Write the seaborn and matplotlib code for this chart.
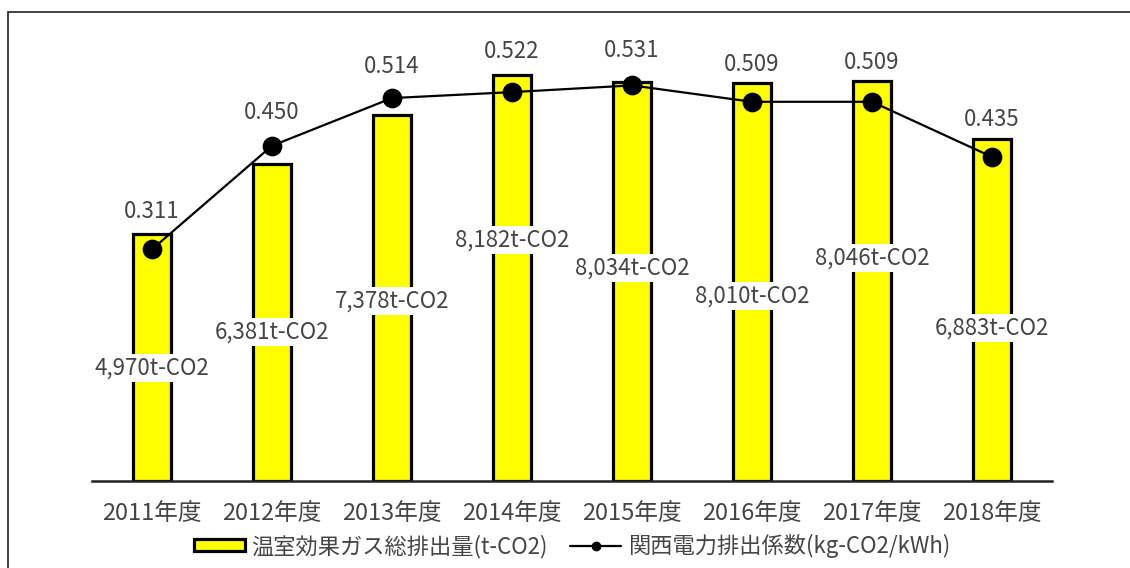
import matplotlib
matplotlib.use("Agg")
import matplotlib.pyplot as plt
import seaborn as sns
import pandas as pd
from matplotlib.patches import Patch, Rectangle
from matplotlib.lines import Line2D

# data
years = ['2011年度', '2012年度', '2013年度', '2014年度',
         '2015年度', '2016年度', '2017年度', '2018年度']
emissions = [4970, 6381, 7378, 8182, 8034, 8010, 8046, 6883]
coef = [0.311, 0.450, 0.514, 0.522, 0.531, 0.509, 0.509, 0.435]

# where the bar labels sit (data units) and how far above the point the coefficient label sits (pt)
bar_label_y = [2280, 3000, 3620, 4850, 4290, 3720, 4490, 3080]
coef_label_off = [27, 24, 23, 29, 25, 27, 28, 27]

bar_name = '温室効果ガス総排出量(t-CO2)'
line_name = '関西電力排出係数(kg-CO2/kWh)'

sns.set_style("white")
plt.rcParams['font.family'] = ['Noto Sans CJK JP', 'DejaVu Sans']
TXT = '#454545'

df = pd.DataFrame({'year': years, 'emissions': emissions, 'coef': coef})

fig = plt.figure(figsize=(11.3, 5.68), dpi=100)
ax = fig.add_axes([92 / 1130, 1 - 481 / 568, 960 / 1130, 447 / 568])

sns.barplot(data=df, x='year', y='emissions', ax=ax, color='#FFFF00',
            width=0.31, edgecolor='black', linewidth=2.3, saturation=1)
ax.set_ylim(0, 9000)
ax.set_xlim(-0.5, len(years) - 0.5)
ax.set_xlabel('')
ax.set_ylabel('')
ax.set_yticks([])
for s in ['left', 'right', 'top']:
    ax.spines[s].set_visible(False)
ax.spines['bottom'].set_color('#222222')
ax.spines['bottom'].set_linewidth(1.8)
ax.tick_params(axis='x', length=0, pad=15, labelsize=17, labelcolor=TXT)

for i, v in enumerate(emissions):
    ax.text(i, bar_label_y[i], f'{v:,}t-CO2', ha='center', va='center',
            fontsize=16, color=TXT, zorder=5,
            bbox=dict(facecolor='white', edgecolor='none', pad=2))

ax2 = ax.twinx()
sns.pointplot(data=df, x='year', y='coef', ax=ax2, color='black',
              markers='o', markersize=13, linewidth=1.6)
ax2.set_ylim(0, 0.6)
ax2.set_xlim(-0.5, len(years) - 0.5)
ax2.set_yticks([])
ax2.set_ylabel('')
ax2.set_xlabel('')
for s in ['left', 'right', 'top', 'bottom']:
    ax2.spines[s].set_visible(False)

for i, v in enumerate(coef):
    ax2.annotate(f'{v:.3f}', (i, v), xytext=(0, coef_label_off[i]),
                 textcoords='offset points', ha='center', va='center',
                 fontsize=16, color=TXT)

handles = [Patch(facecolor='#FFFF00', edgecolor='black', linewidth=2.3, label=bar_name),
           Line2D([], [], color='black', marker='o', markersize=6, linewidth=1.6, label=line_name)]
fig.legend(handles=handles, loc='center', bbox_to_anchor=(572 / 1130, 1 - 546 / 568),
           ncol=2, frameon=False, fontsize=16, labelcolor=TXT,
           handlelength=2.3, handleheight=0.45, handletextpad=0.3, columnspacing=1.0)

# outer frame of the original chart area (cut by the image edges)
fig.patches.append(Rectangle((8 / 1130, -0.1), 1.2, 0.1 + (568 - 12) / 568,
                             transform=fig.transFigure, fill=False,
                             edgecolor='#222222', linewidth=1.2, clip_on=False))

fig.savefig('out.png', dpi=100)
